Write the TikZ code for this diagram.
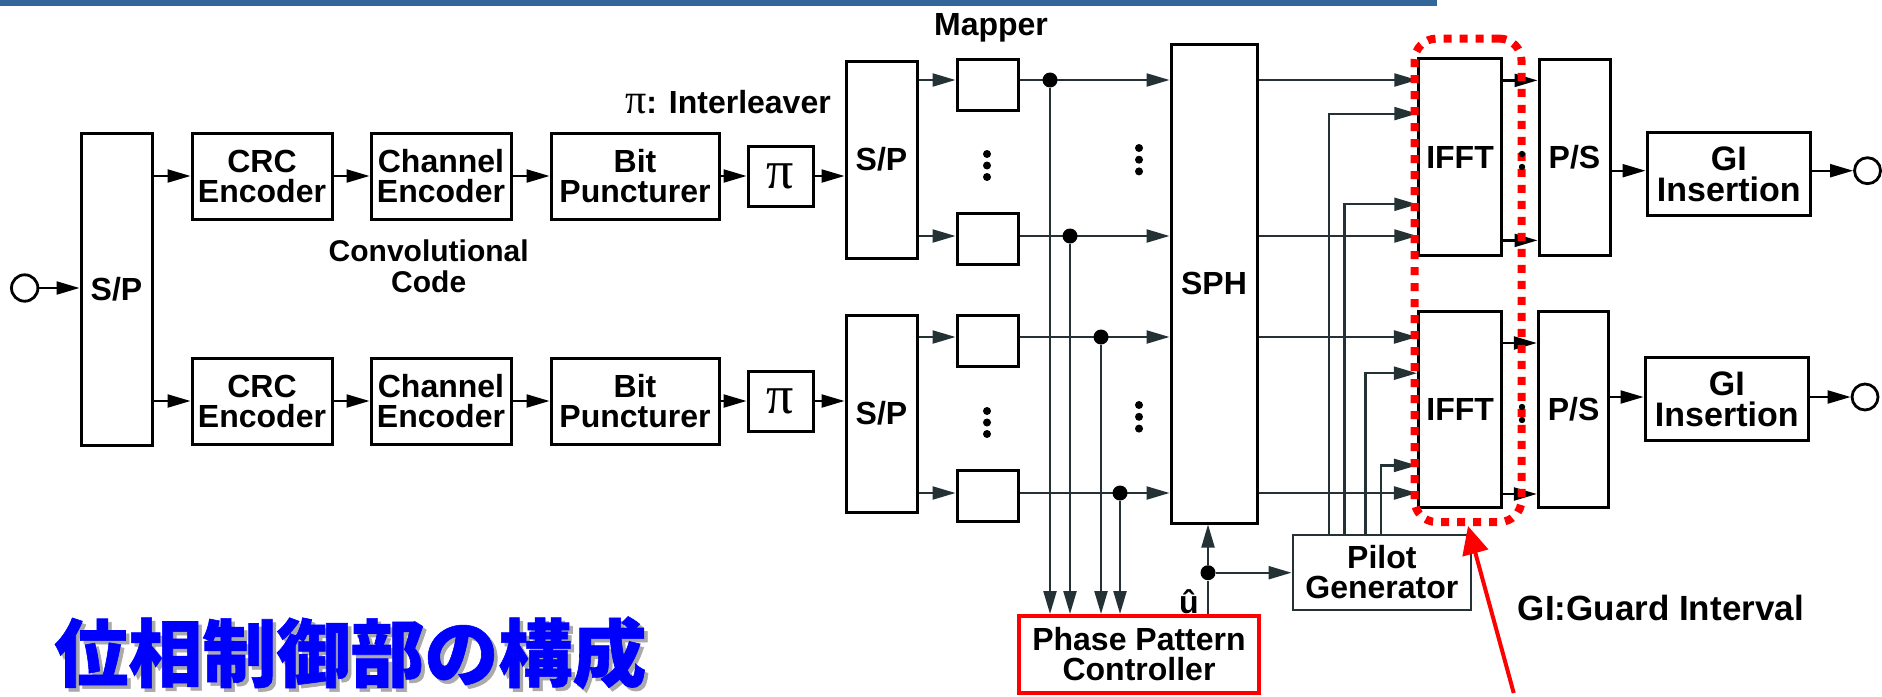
\documentclass[tikz,border=0pt]{standalone}
\usepackage{fontspec}
\setmainfont{Liberation Sans}
\newfontfamily\pif{Liberation Serif}
\newfontfamily\cjk{Noto Sans CJK JP}[BoldFeatures={FakeBold=0.8}]
\usetikzlibrary{arrows.meta}
\definecolor{barblue}{RGB}{51,102,153}
\definecolor{wire}{RGB}{36,50,54}
\definecolor{tblue}{RGB}{0,0,255}
\definecolor{shade}{RGB}{170,170,170}
\begin{document}
\begin{tikzpicture}[x=0.5pt,y=-0.5pt,
 sz/.style 2 args={minimum width=#1*0.5pt,minimum height=#2*0.5pt},
 blk/.style={draw=black,line width=1.5pt,fill=white,inner sep=0pt,align=center,font=\fontsize{16}{15}\selectfont\bfseries},
 lbl/.style={inner sep=0pt,align=center,font=\fontsize{16}{15.5}\selectfont\bfseries},
 arr/.style={-{Triangle[length=11.5pt,width=6.5pt]},line width=1.1pt},
 warr/.style={arr,color=wire},
 wln/.style={line width=1.1pt,color=wire},
 dot/.style={circle,fill=black,inner sep=0pt,minimum size=7.5pt},
 port/.style={circle,draw=black,line width=1.4pt,inner sep=0pt,minimum size=13pt},
 pibox/.style={blk,font=\pif\fontsize{27}{27}\selectfont},
]
\fill[white] (0,0) rectangle (1882,696);
\useasboundingbox (0,0) rectangle (1882,696);
\fill[barblue] (0,0) rectangle (1437,5.5);

% ---------- left part ----------
\node[port,minimum size=13.2pt] (in) at (24.7,288) {};
\node[blk,sz={71}{312}] (sp0) at (116.5,289) {S/P};
\foreach \r/\y in {1/176,2/401}{
  \node[blk,sz={140}{86}] (crc\r) at (262,\y) {CRC\\Encoder};
  \node[blk,sz={140}{86}] (ch\r) at (441,\y) {Channel\\Encoder};
  \node[blk,sz={168}{86}] (bp\r) at (635,\y) {Bit\\Puncturer};
  \node[pibox,sz={65}{60}] (pi\r) at (780.5,\y) {π};
}
\node[blk,sz={71}{197}] (sp1) at (881.5,159.5) {S/P};
\node[blk,sz={71}{197}] (sp2) at (881.5,413.5) {S/P};

\draw[arr] (in.east) -- (in.east -| sp0.west);
\foreach \r in {1,2}{
  \draw[arr] (sp0.east |- crc\r) -- (crc\r.west);
  \draw[arr] (crc\r.east) -- (ch\r.west);
  \draw[arr] (ch\r.east) -- (bp\r.west);
  \draw[arr] (bp\r.east) -- (pi\r.west);
  \draw[arr] (pi\r.east) -- (pi\r.east -| sp\r.west);
}

\node[lbl,anchor=base] (ilv) at (728,113) {{\pif\mdseries\fontsize{21}{21}\selectfont π}: Interleaver};
\node[lbl,font=\fontsize{15}{15.5}\selectfont\bfseries] (conv) at (428.7,266) {Convolutional\\Code};
\node[lbl] (mapl) at (991,27.5) {Mapper};

% ---------- mappers and SPH ----------
\coordinate (r1) at (0,80);
\coordinate (r2) at (0,236);
\coordinate (r3) at (0,337);
\coordinate (r4) at (0,493);
\node[blk,sz={61}{51}] (m1) at (987.5,84.5) {};
\node[blk,sz={61}{51}] (m2) at (987.5,239) {};
\node[blk,sz={61}{51}] (m3) at (987.5,341) {};
\node[blk,sz={61}{51}] (m4) at (987.5,496) {};
\node[blk,sz={86}{479}] (sph) at (1214,283.5) {SPH};
\node[blk,draw=red,line width=2pt,sz={240}{77}] (ppc) at (1139,654.5) {Phase Pattern\\Controller};
\node[blk,draw=wire,line width=1.1pt,sz={178.4}{75}] (pg) at (1381.8,572.5) {Pilot\\Generator};

\draw[warr] (sp1.east |- r1) -- (m1.west |- r1);
\draw[warr] (sp1.east |- r2) -- (m2.west |- r2);
\draw[warr] (sp2.east |- r3) -- (m3.west |- r3);
\draw[warr] (sp2.east |- r4) -- (m4.west |- r4);
\foreach \k in {1,2,3,4}{
  \draw[warr] (m\k.east |- r\k) -- (sph.west |- r\k);
}
\node[dot] (j1) at (1050,80) {};
\node[dot] (j2) at (1070,236) {};
\node[dot] (j3) at (1101,337) {};
\node[dot] (j4) at (1120,493) {};
\foreach \k in {1,2,3,4}{
  \draw[warr] (j\k) -- (j\k |- ppc.north);
}
% vertical ellipses
\foreach \y in {154,165.5,177,411,422.5,434}{ \fill (987,\y) circle (2pt); }
\foreach \y in {148,159.7,171.4,405,416.8,428.6}{ \fill (1139,\y) circle (2pt); }

% u-hat junction
\node[dot] (ju) at (1208,572.7) {};
\draw[wln] (ppc.north -| ju) -- (ju);
\draw[warr] (ju) -- (ju |- sph.south);
\draw[warr] (ju) -- (ju -| pg.west);
\node[lbl,anchor=base] (uh) at (1189,613) {û};

% ---------- IFFT, P/S, GI ----------
\node[blk,sz={82.5}{196.5}] (ifft1) at (1460,157) {IFFT};
\node[blk,sz={83.5}{195.6}] (ifft2) at (1460.2,409.2) {IFFT};
\node[blk,sz={71}{195.5}] (ps1) at (1574.5,157.7) {P/S};
\node[blk,sz={70.6}{195.6}] (ps2) at (1573.6,409.2) {P/S};
\node[blk,sz={163.5}{82.5},font=\fontsize{17}{15.5}\selectfont\bfseries] (gi1) at (1728.75,174.2) {GI\\Insertion};
\node[blk,sz={163.5}{82.5},font=\fontsize{17}{15.5}\selectfont\bfseries] (gi2) at (1726.75,399.2) {GI\\Insertion};
\node[port] (o1) at (1867.5,170.7) {};
\node[port] (o2) at (1865,397) {};

\draw[warr] (sph.east |- r1) -- (ifft1.west |- r1);
\draw[warr] (sph.east |- r2) -- (ifft1.west |- r2);
\draw[warr] (sph.east |- r3) -- (ifft2.west |- r3);
\draw[warr] (sph.east |- r4) -- (ifft2.west |- r4);

\coordinate (p1) at (1329,113.6);
\coordinate (p2) at (1344.5,204.3);
\coordinate (p3) at (1365.5,373.2);
\coordinate (p4) at (1381,465.4);
\draw[warr] (pg.north -| p1) -- (p1) -- (p1 -| ifft1.west);
\draw[warr] (pg.north -| p2) -- (p2) -- (p2 -| ifft1.west);
\draw[warr] (pg.north -| p3) -- (p3) -- (p3 -| ifft2.west);
\draw[warr] (pg.north -| p4) -- (p4) -- (p4 -| ifft2.west);

\coordinate (s1) at (0,80.4);
\coordinate (s2) at (0,240.4);
\coordinate (s3) at (0,343);
\coordinate (s4) at (0,494);
\draw[arr] (ifft1.east |- s1) -- (ps1.west |- s1);
\draw[arr] (ifft1.east |- s2) -- (ps1.west |- s2);
\draw[arr] (ifft2.east |- s3) -- (ps2.west |- s3);
\draw[arr] (ifft2.east |- s4) -- (ps2.west |- s4);

\coordinate (g1) at (0,170.7);
\coordinate (g2) at (0,397);
\draw[arr] (ps1.east |- g1) -- (gi1.west |- g1);
\draw[arr] (ps2.east |- g2) -- (gi2.west |- g2);
\draw[arr] (gi1.east |- o1) -- (o1.west);
\draw[arr] (gi2.east |- o2) -- (o2.west);

% red dotted group
\node[draw=red,line width=4pt,dash pattern=on 4pt off 4pt,rounded corners=11pt,inner sep=0pt,sz={107}{483.4}] (grp) at (1468,280.3) {};
\foreach \y in {154,167,407,420}{ \fill (1522,\y) circle (1.6pt); }
\coordinate (rt) at (1513.7,693);
\draw[red,line width=2pt,-{Triangle[length=14pt,width=13pt]}] (rt) -- (grp.south);

\node[lbl,anchor=base,font=\fontsize{17.5}{17.5}\selectfont\bfseries] (gil) at (1660.8,620) {GI:Guard Interval};

% title
\node[anchor=base west,inner sep=0pt,text=shade,font=\cjk\bfseries\fontsize{37}{37}\selectfont] (tsh) at (57.5,684.5) {位相制御部の構成};
\node[anchor=base west,inner sep=0pt,text=tblue,font=\cjk\bfseries\fontsize{37}{37}\selectfont] (title) at (54,681) {位相制御部の構成};
\end{tikzpicture}
\end{document}
